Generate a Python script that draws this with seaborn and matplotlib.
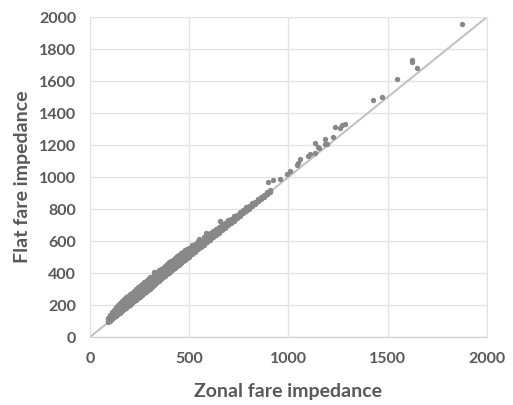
import pandas as pd
import matplotlib
matplotlib.use('Agg')
import matplotlib.pyplot as plt
import seaborn as sns

# dense band: zonal values and the spread of flat values at each
zonal_band = [90, 100, 110, 120, 130, 140, 150, 160, 170, 180, 190, 200, 210, 220,
              230, 240, 250, 260, 270, 280, 290, 300, 310, 320, 330, 340, 350, 360,
              370, 380, 390, 400, 410, 420, 430, 440, 450, 460, 470, 480, 490, 500,
              515, 530, 545, 560, 575, 590, 605, 620, 635, 650, 665, 680, 695, 710,
              725, 740, 755, 770, 785, 800, 815, 830, 845, 860, 875, 890, 905]
flat_low = [92, 102, 112, 122, 132, 142, 152, 162, 172, 182, 192, 202, 212, 222,
            232, 242, 252, 262, 272, 282, 292, 302, 312, 322, 332, 342, 352, 362,
            372, 382, 392, 402, 412, 422, 432, 442, 452, 462, 472, 482, 492, 502,
            517, 532, 547, 562, 577, 592, 607, 622, 637, 652, 667, 682, 697, 712,
            727, 742, 757, 772, 787, 802, 817, 832, 847, 862, 877, 892, 907]
flat_mid1 = [102, 116, 127, 138, 150, 160, 172, 182, 194, 205, 214, 225, 234, 245,
             256, 265, 274, 285, 296, 304, 315, 326, 334, 344, 355, 364, 374, 384,
             393, 404, 414, 424, 433, 442, 454, 463, 472, 483, 492, 502, 512, 521,
             535, 549, 563, 577, 592, 606, 621, 635, 650, 664, 679, 693, 708, 722,
             737, 751, 766, 780, 795, 809, 824, 838, 853, 867, 882, 896, 911]
flat_mid2 = [112, 128, 142, 154, 168, 179, 191, 203, 215, 226, 236, 248, 256, 267,
             278, 288, 296, 307, 318, 326, 337, 348, 356, 365, 377, 386, 395, 406,
             414, 424, 436, 445, 454, 462, 475, 484, 492, 503, 511, 522, 531, 540,
             552, 565, 580, 590, 606, 618, 632, 646, 660, 672, 688, 700, 714, 726,
             742, 754, 770, 782, 797, 810, 825, 838, 853, 866, 881, 895, 910]
flat_high = [120, 140, 155, 170, 185, 198, 210, 222, 236, 248, 258, 270, 278, 290,
             302, 310, 318, 330, 342, 348, 360, 372, 378, 386, 400, 408, 416, 428,
             434, 446, 458, 466, 474, 482, 496, 504, 512, 524, 530, 542, 550, 558,
             572, 582, 598, 606, 624, 634, 650, 660, 676, 688, 704, 712, 730, 740,
             758, 764, 784, 792, 810, 820, 836, 846, 860, 874, 888, 904, 918]

# scattered points above the band
zonal_sparse = [322, 479, 549, 584, 655, 898, 924, 957, 991, 1008, 1041, 1050, 1058,
                1098, 1108, 1133, 1132, 1150, 1153, 1184, 1192, 1182, 1223, 1233,
                1259, 1269, 1285, 1427, 1471, 1545, 1620, 1624, 1646, 1872]
flat_sparse = [408, 544, 611, 648, 727, 971, 981, 990, 1019, 1040, 1075, 1085, 1110,
               1134, 1144, 1148, 1215, 1189, 1179, 1206, 1204, 1240, 1250, 1314,
               1308, 1322, 1329, 1479, 1502, 1610, 1731, 1717, 1679, 1954]

diag = [0, 2000]
x_ticks = [0, 500, 1000, 1500, 2000]
y_ticks = [0, 200, 400, 600, 800, 1000, 1200, 1400, 1600, 1800, 2000]

band = pd.DataFrame({'zonal': zonal_band, 'low': flat_low, 'mid1': flat_mid1,
                     'mid2': flat_mid2, 'high': flat_high})
band = band.melt(id_vars='zonal', value_name='flat')[['zonal', 'flat']]
sparse = pd.DataFrame({'zonal': zonal_sparse, 'flat': flat_sparse})
df = pd.concat([band, sparse], ignore_index=True)

sns.set_style('white')
plt.rcParams['font.family'] = ['Lato', 'DejaVu Sans']

fig = plt.figure(figsize=(5.13, 4.05), dpi=100)
ax = fig.add_axes([0.1754, 0.1679, 0.7739, 0.7901])

ax.plot(diag, diag, color='#bfbfbf', lw=1.4, zorder=1)
sns.scatterplot(data=df, x='zonal', y='flat', ax=ax, color='#888888',
                s=15, linewidth=0, zorder=2)

ax.set_xlim(0, 2000)
ax.set_ylim(0, 2000)
ax.set_xticks(x_ticks)
ax.set_yticks(y_ticks)
ax.grid(True, color='#e3e3e3', lw=1)
ax.set_axisbelow(True)
for sp in ax.spines.values():
    sp.set_color('#e3e3e3')
ax.spines['bottom'].set_color('#d0d0d0')
ax.tick_params(length=0, labelsize=11.5, labelcolor='#595959')
ax.tick_params(axis='y', pad=10)
ax.tick_params(axis='x', pad=11)
for lab in ax.get_xticklabels() + ax.get_yticklabels():
    lab.set_fontweight('bold')

ax.set_xlabel('Zonal fare impedance', fontsize=14, fontweight='bold',
              color='#595959', labelpad=12)
ax.set_ylabel('Flat fare impedance', fontsize=14, fontweight='bold',
              color='#595959', labelpad=6)

plt.savefig('out.png', dpi=100)
